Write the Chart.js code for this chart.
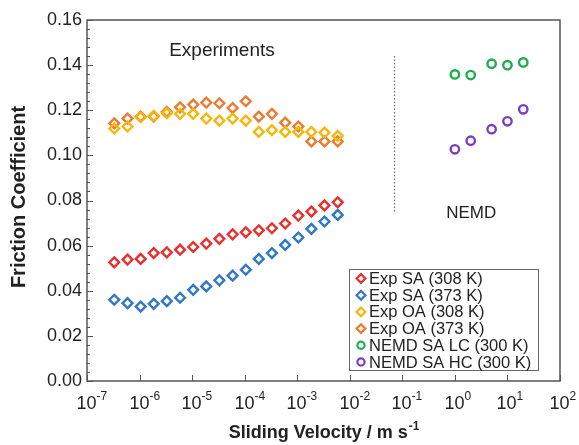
<!DOCTYPE html>
<html lang="en">
<head>
    <meta charset="UTF-8">
    <title>Friction Coefficient vs Sliding Velocity</title>
    <script src="https://cdn.jsdelivr.net/npm/chart.js"></script>
    <style>
        body { margin: 0; background: #fff; }
        #wrap { width: 579px; height: 445px; }
    </style>
</head>
<body>
    <div id="wrap">
        <canvas id="frictionChart" width="579" height="445"></canvas>
    </div>

    <script>
        // sliding velocities (m/s) for the experiments
        const expVelocity = [3.3e-7, 5.9e-7, 1.05e-6, 1.86e-6, 3.3e-6, 5.9e-6, 1.05e-5, 1.86e-5, 3.3e-5,
                             5.9e-5, 1.05e-4, 1.86e-4, 3.3e-4, 5.9e-4, 1.05e-3, 1.86e-3, 3.3e-3, 5.9e-3];
        const expSA308 = [0.0526, 0.0538, 0.0541, 0.0567, 0.0570, 0.0582, 0.0594, 0.0609, 0.0630,
                          0.0650, 0.0659, 0.0668, 0.0677, 0.0698, 0.0733, 0.0751, 0.0778, 0.0792];
        const expSA373 = [0.0360, 0.0345, 0.0330, 0.0342, 0.0354, 0.0369, 0.0404, 0.0419, 0.0446,
                          0.0467, 0.0493, 0.0541, 0.0567, 0.0603, 0.0636, 0.0674, 0.0707, 0.0736];
        const expOA308 = [0.1119, 0.1128, 0.1169, 0.1175, 0.1187, 0.1184, 0.1184, 0.1163, 0.1154,
                          0.1163, 0.1154, 0.1104, 0.1112, 0.1104, 0.1104, 0.1104, 0.1101, 0.1086];
        const expOA373 = [0.1142, 0.1163, 0.1172, 0.1172, 0.1193, 0.1213, 0.1225, 0.1234, 0.1231,
                          0.1210, 0.1240, 0.1172, 0.1184, 0.1145, 0.1128, 0.1062, 0.1062, 0.1062];

        // NEMD simulations
        const nemdVelocity = [1, 2, 5, 10, 20];
        const nemdLC = [0.1359, 0.1356, 0.1406, 0.1400, 0.1412];
        const nemdHC = [0.1027, 0.1065, 0.1116, 0.1151, 0.1204];

        const xTickExponents = [-7, -6, -5, -4, -3, -2, -1, 0, 1, 2];
        const yMajorTicks = [0, 0.02, 0.04, 0.06, 0.08, 0.10, 0.12, 0.14, 0.16];

        const FONT = '"Liberation Sans", Arial, sans-serif';
        const TEXT = '#222';

        function points(xs, ys) {
            return xs.map((x, i) => ({ x: x, y: ys[i] }));
        }

        function series(label, xs, ys, color, style) {
            return {
                label: label,
                data: points(xs, ys),
                borderColor: color,
                backgroundColor: 'rgba(255,255,255,0)',
                pointStyle: style,
                pointRadius: style === 'circle' ? 4.2 : 4.9,
                pointBorderWidth: 2.4,
                pointHoverRadius: 4.9,
                showLine: false
            };
        }

        // ticks, labels, frame, notes and the legend box
        const decorations = {
            id: 'decorations',
            afterDraw(chart) {
                const ctx = chart.ctx;
                const area = chart.chartArea;
                const xs = chart.scales.x;
                const ys = chart.scales.y;
                ctx.save();

                // frame
                ctx.strokeStyle = '#555';
                ctx.lineWidth = 1.5;
                ctx.strokeRect(area.left, area.top, area.right - area.left, area.bottom - area.top);

                // y ticks, inward, with minor ticks
                ctx.lineWidth = 1;
                for (let i = 0; i <= 40; i++) {
                    const py = Math.round(ys.getPixelForValue(i * 0.004)) + 0.5;
                    const len = i % 5 === 0 ? 6 : 3;
                    ctx.beginPath();
                    ctx.moveTo(area.left, py);
                    ctx.lineTo(area.left + len, py);
                    ctx.stroke();
                }

                // x decade ticks and labels
                ctx.fillStyle = TEXT;
                ctx.textBaseline = 'alphabetic';
                xTickExponents.forEach(e => {
                    const px = Math.round(xs.getPixelForValue(Math.pow(10, e))) + 0.5;
                    ctx.beginPath();
                    ctx.moveTo(px, area.bottom);
                    ctx.lineTo(px, area.bottom - 6);
                    ctx.stroke();

                    ctx.font = '18px ' + FONT;
                    ctx.textAlign = 'center';
                    ctx.fillText('10', px - 1, area.bottom + 28);
                    ctx.font = '12px ' + FONT;
                    ctx.textAlign = 'left';
                    ctx.fillText(String(e), px + 9, area.bottom + 19);
                });

                // x title with superscript
                ctx.font = 'bold 18px ' + FONT;
                const main = 'Sliding Velocity / m s';
                const wMain = ctx.measureText(main).width;
                ctx.font = 'bold 12px ' + FONT;
                const wSup = ctx.measureText('-1').width;
                const cx = (area.left + area.right) / 2;
                const startX = cx - (wMain + wSup) / 2;
                ctx.font = 'bold 18px ' + FONT;
                ctx.textAlign = 'left';
                ctx.fillText(main, startX, area.bottom + 57);
                ctx.font = 'bold 12px ' + FONT;
                ctx.fillText('-1', startX + wMain + 1, area.bottom + 49);

                // y title
                ctx.save();
                ctx.translate(19, 197);
                ctx.rotate(-Math.PI / 2);
                ctx.font = 'bold 20px ' + FONT;
                ctx.textAlign = 'center';
                ctx.textBaseline = 'middle';
                ctx.fillText('Friction Coefficient', 0, 0);
                ctx.restore();

                // notes
                ctx.textAlign = 'center';
                ctx.textBaseline = 'middle';
                ctx.font = '19px ' + FONT;
                ctx.fillText('Experiments', xs.getPixelForValue(3.7e-5), ys.getPixelForValue(0.1462));
                ctx.font = '17px ' + FONT;
                ctx.fillText('NEMD', xs.getPixelForValue(2.05), ys.getPixelForValue(0.0745));

                // dotted divider
                const dx = Math.round(xs.getPixelForValue(0.07)) + 0.5;
                ctx.strokeStyle = '#777';
                ctx.lineWidth = 1.3;
                ctx.setLineDash([1.5, 2]);
                ctx.beginPath();
                ctx.moveTo(dx, ys.getPixelForValue(0.144));
                ctx.lineTo(dx, ys.getPixelForValue(0.0747));
                ctx.stroke();
                ctx.setLineDash([]);

                // legend box
                const bx = area.right - 211, by = area.bottom - 112, bw = 189, bh = 101;
                ctx.fillStyle = '#fff';
                ctx.fillRect(bx, by, bw, bh);
                ctx.strokeStyle = '#666';
                ctx.lineWidth = 1;
                ctx.strokeRect(bx + 0.5, by + 0.5, bw, bh);
                ctx.font = '16.5px ' + FONT;
                ctx.textAlign = 'left';
                ctx.textBaseline = 'middle';
                chart.data.datasets.forEach((ds, i) => {
                    const ly = by + 9.5 + i * 16.7;
                    ctx.strokeStyle = ds.borderColor;
                    ctx.fillStyle = 'rgba(255,255,255,0)';
                    ctx.lineWidth = 2.2;
                    Chart.helpers.drawPoint(ctx, {
                        pointStyle: ds.pointStyle,
                        radius: ds.pointStyle === 'circle' ? 3.6 : 4.4,
                        rotation: 0,
                        borderWidth: 2.2
                    }, bx + 12, ly);
                    ctx.fillStyle = TEXT;
                    ctx.fillText(ds.label, bx + 20, ly + 1);
                });

                ctx.restore();
            }
        };

        const ctx = document.getElementById('frictionChart').getContext('2d');
        const chart = new Chart(ctx, {
            type: 'scatter',
            data: {
                datasets: [
                    series('Exp SA (308 K)', expVelocity, expSA308, '#e8302e', 'rectRot'),
                    series('Exp SA (373 K)', expVelocity, expSA373, '#2f78c6', 'rectRot'),
                    series('Exp OA (308 K)', expVelocity, expOA308, '#f6b70a', 'rectRot'),
                    series('Exp OA (373 K)', expVelocity, expOA373, '#ec7a30', 'rectRot'),
                    series('NEMD SA LC (300 K)', nemdVelocity, nemdLC, '#1fae4f', 'circle'),
                    series('NEMD SA HC (300 K)', nemdVelocity, nemdHC, '#7b3fbe', 'circle')
                ]
            },
            options: {
                responsive: false,
                animation: false,
                layout: { padding: { top: 20, right: 19, left: 0, bottom: 0 } },
                plugins: {
                    legend: { display: false },
                    tooltip: { enabled: false }
                },
                scales: {
                    x: {
                        type: 'logarithmic',
                        min: 1e-7,
                        max: 1e2,
                        grid: { display: false, drawTicks: false },
                        border: { display: false },
                        ticks: { display: false },
                        afterFit(scale) { scale.height = 64; }
                    },
                    y: {
                        min: 0,
                        max: 0.16,
                        grid: { display: false, drawTicks: false },
                        border: { display: false },
                        afterBuildTicks(scale) {
                            scale.ticks = yMajorTicks.map(v => ({ value: v }));
                        },
                        ticks: {
                            padding: 5,
                            color: TEXT,
                            font: { family: FONT, size: 18 },
                            callback: v => v.toFixed(2)
                        },
                        afterFit(scale) { scale.width = 87; }
                    }
                }
            },
            plugins: [decorations]
        });
    </script>
</body>
</html>
